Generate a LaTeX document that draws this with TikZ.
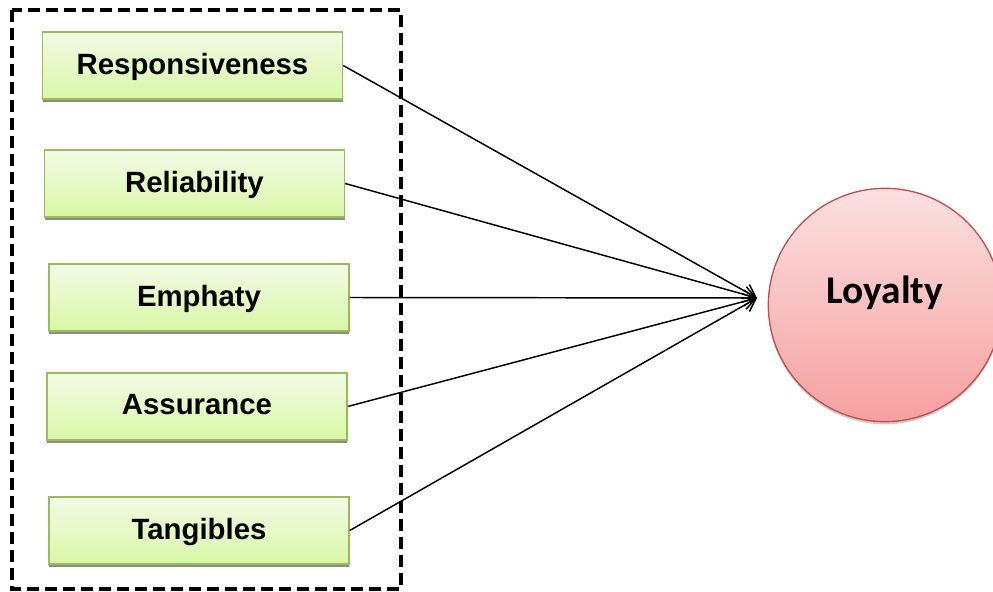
\documentclass[tikz,border=0pt]{standalone}
\usepackage{fontspec}
\setmainfont{Liberation Sans}
\newfontfamily\loyfont{Carlito}
\usepackage{tikz}
\usetikzlibrary{arrows.meta}
\usetikzlibrary{shadows}

\definecolor{boxtop}{HTML}{F2FBE6}
\definecolor{boxbot}{HTML}{D9F7A6}
\definecolor{boxline}{HTML}{9BBB59}
\definecolor{circtop}{HTML}{FCE0E0}
\definecolor{circbot}{HTML}{F5A0A0}
\definecolor{circline}{HTML}{C0504D}

\begin{document}
\begin{tikzpicture}[x=0.75pt,y=-0.75pt,
  factor/.style={rectangle, draw=boxline, line width=1.1pt,
    top color=boxtop, bottom color=boxbot,
    minimum width=225pt, minimum height=50pt,
    text depth=0.3em,
    font=\fontsize{22}{25}\selectfont\bfseries,
    drop shadow={shadow xshift=0pt, shadow yshift=-2.2pt, fill=black!45, opacity=1}},
  outcome/.style={circle, draw=circline, line width=1pt,
    top color=circtop, bottom color=circbot,
    minimum size=175pt, inner sep=0pt,
    text height=0.7em, text depth=1em,
    font=\loyfont\fontsize{29.5}{33}\selectfont\bfseries,
    drop shadow={shadow xshift=0pt, shadow yshift=-2pt, fill=black!20, opacity=1}},
  link/.style={line width=1.1pt, -{Straight Barb[length=9pt,width=12pt,line width=1.1pt]}}]
\useasboundingbox (0,0) rectangle (993,592);
% dashed frame
\draw[line width=3.3pt, dash pattern=on 9pt off 4.5pt] (12,10) rectangle (401,589);
% draws factors
\node[factor] (resp) at (192.5,65.5) {Responsiveness};
\node[factor] (reli) at (194.5,183.5) {Reliability};
\node[factor] (emph) at (199,297.5) {Emphaty};
\node[factor] (assu) at (197,406.5) {Assurance};
\node[factor] (tang) at (199,530.5) {Tangibles};
% draws outcome
\node[outcome] (loyal) at (885,305) {Loyalty};
\coordinate (tip) at (757,298);
% draws arrows
\draw[link] (resp.east) -- (tip);
\draw[link] (reli.east) -- (tip);
\draw[link] (emph.east) -- (tip);
\draw[link] (assu.east) -- (tip);
\draw[link] (tang.east) -- (tip);
\end{tikzpicture}
\end{document}
